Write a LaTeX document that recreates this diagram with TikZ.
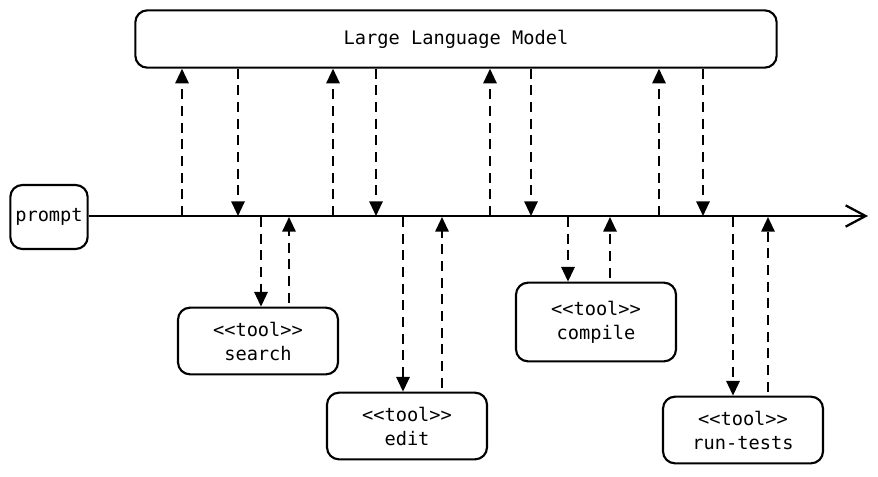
\documentclass[tikz,border=0pt]{standalone}
\usepackage{fontspec}
\setmonofont{DejaVu Sans Mono}
\usetikzlibrary{arrows.meta}
\tikzset{
  box/.style={draw, rounded corners=9pt, line width=1.6pt, align=center,
    inner sep=2pt, font=\ttfamily\fontsize{14}{18}\selectfont},
  tool/.style={box, minimum width=120pt, minimum height=50pt},
  req/.style={dashed, dash pattern=on 7.5pt off 5pt, line width=1.5pt,
    -{Triangle[length=11pt,width=10pt]}},
  timeline/.style={line width=1.9pt, -{Straight Barb[length=15pt,width=16pt,line width=1.7pt]}}
}
\begin{document}
\begin{tikzpicture}[x=0.75pt,y=-0.75pt]
\useasboundingbox (0,0) rectangle (878,476);
% boxes
\node [box, minimum width=481pt, minimum height=43pt] (llm) at (456,39) {Large Language Model};
\node [box, minimum width=58pt, minimum height=48pt, inner sep=1pt] (prompt) at (49,217) {prompt};
\node [tool] (search) at (258,341) {<{}<tool>{}>\\search};
\node [tool] (edit) at (407,426) {<{}<tool>{}>\\edit};
\node [tool, minimum height=59pt] (compile) at (596,322) {<{}<tool>{}>\\compile};
\node [tool] (runtests) at (743,430) {<{}<tool>{}>\\run-tests};
% time line
\coordinate (tlend) at (868,216);
\draw [timeline] (prompt.east |- tlend) -- (tlend);
% points on the time line
\coordinate (u1) at (182,216);
\coordinate (d1) at (238,216);
\coordinate (u2) at (333,216);
\coordinate (d2) at (376,216);
\coordinate (u3) at (490,216);
\coordinate (d3) at (531,216);
\coordinate (u4) at (659,216);
\coordinate (d4) at (703,216);
\coordinate (s1) at (261,217);
\coordinate (s2) at (289,217);
\coordinate (e1) at (403,217);
\coordinate (e2) at (442,217);
\coordinate (c1) at (568,217);
\coordinate (c2) at (610,217);
\coordinate (r1) at (733,217);
\coordinate (r2) at (768,217);
% model calls
\draw [req] (u1) -- (u1 |- llm.south);
\draw [req] (d1 |- llm.south) -- (d1);
\draw [req] (u2) -- (u2 |- llm.south);
\draw [req] (d2 |- llm.south) -- (d2);
\draw [req] (u3) -- (u3 |- llm.south);
\draw [req] (d3 |- llm.south) -- (d3);
\draw [req] (u4) -- (u4 |- llm.south);
\draw [req] (d4 |- llm.south) -- (d4);
% tool calls
\draw [req] (s1) -- (s1 |- search.north);
\draw [req, shorten <=3pt] (s2 |- search.north) -- (s2);
\draw [req] (e1) -- (e1 |- edit.north);
\draw [req, shorten <=3pt] (e2 |- edit.north) -- (e2);
\draw [req] (c1) -- (c1 |- compile.north);
\draw [req, shorten <=3pt] (c2 |- compile.north) -- (c2);
\draw [req] (r1) -- (r1 |- runtests.north);
\draw [req, shorten <=3pt] (r2 |- runtests.north) -- (r2);
\end{tikzpicture}
\end{document}
